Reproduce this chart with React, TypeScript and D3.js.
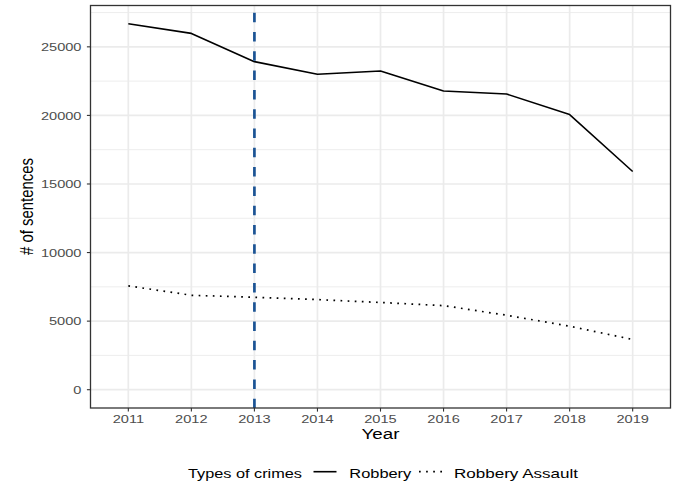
import React from "react";
import * as d3 from "d3";

const years = ["2011", "2012", "2013", "2014", "2015", "2016", "2017", "2018", "2019"];
const robbery = [26680, 25980, 23920, 23000, 23240, 21780, 21560, 20060, 15910];
const robberyAssault = [7570, 6885, 6740, 6570, 6360, 6130, 5430, 4630, 3660];
const yTicks = [0, 5000, 10000, 15000, 20000, 25000];
const yMinor = [2500, 7500, 12500, 17500, 22500, 27500];
const markerYear = "2013";
const legendTitle = "Types of crimes";
const seriesNames = ["Robbery", "Robbery Assault"];

const W = 674, H = 484;
const L = 90.5, R = 670.5, T = 5.5, B = 408;
const FONT = "'Liberation Sans', Arial, Helvetica, sans-serif";
const SX = 1.26;

export default function App() {
  const x = d3.scalePoint<string>().domain(years).range([L, R]).padding(0.6);
  const all = [0, ...robbery, ...robberyAssault];
  const lo = d3.min(all)!, hi = d3.max(all)!;
  const span = hi - lo;
  const y = d3.scaleLinear().domain([lo - 0.05 * span, hi + 0.05 * span]).range([B, T]);
  const line = d3
    .line<number>()
    .x((_, i) => x(years[i])!)
    .y((d) => y(d));
  const mx = x(markerYear)!;

  return (
    <svg width={W} height={H} style={{ position: "absolute", left: 0, top: 0 }} fontFamily={FONT}>
      <rect x={0} y={0} width={W} height={H} fill="white" />
      {yMinor.map((v) => (
        <line key={"mi" + v} x1={L} x2={R} y1={y(v)} y2={y(v)} stroke="#EBEBEB" strokeWidth={0.9} />
      ))}
      {yTicks.map((v) => (
        <line key={"ma" + v} x1={L} x2={R} y1={y(v)} y2={y(v)} stroke="#EBEBEB" strokeWidth={1.7} />
      ))}
      {years.map((yr) => (
        <line key={"vx" + yr} x1={x(yr)} x2={x(yr)} y1={T} y2={B} stroke="#EBEBEB" strokeWidth={1.7} />
      ))}
      <path d={line(robbery)!} fill="none" stroke="black" strokeWidth={1.6} strokeLinejoin="round" />
      <path d={line(robberyAssault)!} fill="none" stroke="black" strokeWidth={1.7} strokeDasharray="1.7 5.4" />
      <line x1={mx} x2={mx} y1={T} y2={B} stroke="#1B5394" strokeWidth={2.7} strokeDasharray="9.5 9.8" strokeDashoffset={12.1} />
      <rect x={L} y={T} width={R - L} height={B - T} fill="none" stroke="#333333" strokeWidth={1.3} />
      {yTicks.map((v) => (
        <g key={"yt" + v}>
          <line x1={L - 3.6} x2={L} y1={y(v)} y2={y(v)} stroke="#333333" strokeWidth={1.1} />
          <text
            transform={`translate(${81.5},${y(v) + 4.1}) scale(${SX},1)`}
            textAnchor="end"
            fontSize={11.6}
            fill="#4D4D4D"
          >
            {v}
          </text>
        </g>
      ))}
      {years.map((yr) => (
        <g key={"xt" + yr}>
          <line x1={x(yr)} x2={x(yr)} y1={B} y2={B + 3.6} stroke="#333333" strokeWidth={1.1} />
          <text
            transform={`translate(${x(yr)},${423.3}) scale(${SX},1)`}
            textAnchor="middle"
            fontSize={11.6}
            fill="#4D4D4D"
          >
            {yr}
          </text>
        </g>
      ))}
      <text transform={`translate(${(L + R) / 2},439) scale(${SX},1)`} textAnchor="middle" fontSize={14.9} fill="black">
        Year
      </text>
      <text transform={`translate(33.3,206.5) rotate(-90) scale(1,${SX})`} textAnchor="middle" fontSize={14.9} fill="black">
        # of sentences
      </text>
      <g>
        <text x={188} y={477.5} fontSize={13.4} textLength={114} lengthAdjust="spacingAndGlyphs" fill="black">
          {legendTitle}
        </text>
        <line x1={313.5} x2={336.5} y1={471.7} y2={471.7} stroke="black" strokeWidth={1.6} />
        <text x={349.3} y={477.5} fontSize={13.4} textLength={62} lengthAdjust="spacingAndGlyphs" fill="black">
          {seriesNames[0]}
        </text>
        <line x1={419} x2={444} y1={471.7} y2={471.7} stroke="black" strokeWidth={1.7} strokeDasharray="1.7 5.4" />
        <text x={454} y={477.5} fontSize={13.4} textLength={124} lengthAdjust="spacingAndGlyphs" fill="black">
          {seriesNames[1]}
        </text>
      </g>
    </svg>
  );
}
